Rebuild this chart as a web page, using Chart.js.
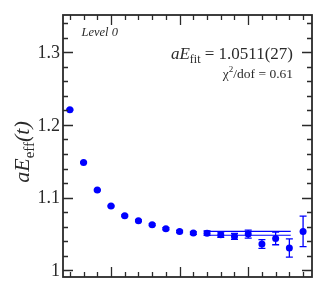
<!DOCTYPE html>
<html>
<head>
<meta charset="utf-8">
<script src="https://cdn.jsdelivr.net/npm/chart.js@4"></script>
<style>
  body { margin: 0; background: #fff; }
  canvas { display: block; }
</style>
</head>
<body>
<canvas id="effChart" width="326" height="294"></canvas>
<script>
// data
const tValues = [2, 3, 4, 5, 6, 7, 8, 9, 10, 11, 12, 13, 14, 15, 16, 17, 18, 19]
const effMass = [1.2207, 1.1484, 1.1104, 1.0885, 1.0751, 1.0683, 1.0628, 1.0573, 1.0536,
  1.0513, 1.0512, 1.0491, 1.0468, 1.0500, 1.0363, 1.0440, 1.0308, 1.0536]
const effErr = [0.0008, 0.0008, 0.0009, 0.0010, 0.0011, 0.0012, 0.0013, 0.0014, 0.0016,
  0.0018, 0.0030, 0.0035, 0.0040, 0.0055, 0.0060, 0.0087, 0.0126, 0.0210]
const fitRange = [11.8, 18.1]
const fitValue = 1.0511
const fitErr = 0.0027
const yTickValues = [1, 1.1, 1.2, 1.3]
const yTickLabels = ['1', '1.1', '1.2', '1.3']

const BLUE = '#0000ff'
const INK = '#2a2a2a'
const SERIF = '"Liberation Serif", "DejaVu Serif", serif'

// error bars drawn from the data through the scales
const errorBars = {
  id: 'errorBars',
  beforeDatasetsDraw(chart) {
    const { ctx, scales: { x, y } } = chart
    ctx.save()
    ctx.strokeStyle = BLUE
    ctx.lineWidth = 1.3
    tValues.forEach((t, i) => {
      const px = x.getPixelForValue(t)
      const lo = y.getPixelForValue(effMass[i] - effErr[i])
      const hi = y.getPixelForValue(effMass[i] + effErr[i])
      ctx.beginPath()
      ctx.moveTo(px, lo); ctx.lineTo(px, hi)
      ctx.moveTo(px - 3.5, lo); ctx.lineTo(px + 3.5, lo)
      ctx.moveTo(px - 3.5, hi); ctx.lineTo(px + 3.5, hi)
      ctx.stroke()
    })
    ctx.restore()
  },
}

// helper: draw a run of text pieces [text, font, dy]
function runWidth(ctx, parts) {
  let w = 0
  parts.forEach(p => { ctx.font = p[1]; w += ctx.measureText(p[0]).width })
  return w
}
function drawRun(ctx, parts, x, y) {
  parts.forEach(p => {
    ctx.font = p[1]
    ctx.fillText(p[0], x, y + (p[2] || 0))
    x += ctx.measureText(p[0]).width
  })
}

// frame, inward ticks on all sides, labels and texts
const frame = {
  id: 'frame',
  afterDraw(chart) {
    const { ctx, chartArea: a, scales: { x, y } } = chart
    ctx.save()
    ctx.strokeStyle = INK
    ctx.lineWidth = 1.3
    ctx.beginPath()
    // x ticks every 1, long every 5
    for (let t = Math.ceil(x.min); t <= x.max; t++) {
      const px = Math.round(x.getPixelForValue(t)) + 0.5
      const len = t % 5 === 0 ? 10 : 5
      ctx.moveTo(px, a.bottom); ctx.lineTo(px, a.bottom - len)
      ctx.moveTo(px, a.top); ctx.lineTo(px, a.top + len)
    }
    // y ticks every 0.02, long every 0.1
    for (let k = Math.ceil(y.min * 50); k <= y.max * 50; k++) {
      const py = Math.round(y.getPixelForValue(k / 50)) + 0.5
      const len = k % 5 === 0 ? 10 : 5
      ctx.moveTo(a.left, py); ctx.lineTo(a.left + len, py)
      ctx.moveTo(a.right, py); ctx.lineTo(a.right - len, py)
    }
    ctx.stroke()
    ctx.lineWidth = 1.8
    ctx.strokeRect(a.left, a.top, a.right - a.left, a.bottom - a.top)

    // y tick labels
    ctx.fillStyle = INK
    ctx.font = '18px ' + SERIF
    ctx.textAlign = 'right'
    ctx.textBaseline = 'middle'
    yTickValues.forEach((v, i) => {
      ctx.fillText(yTickLabels[i], a.left - 3, y.getPixelForValue(v) + 1)
    })

    ctx.textAlign = 'left'
    ctx.textBaseline = 'alphabetic'

    // y axis title
    const title = [
      ['aE', 'italic 22px ' + SERIF],
      ['eff', '15px ' + SERIF, 5],
      ['(t)', 'italic 22px ' + SERIF],
    ]
    ctx.save()
    ctx.translate(29, 152)
    ctx.rotate(-Math.PI / 2)
    drawRun(ctx, title, -runWidth(ctx, title) / 2, 0)
    ctx.restore()

    // panel label
    ctx.font = 'italic 12.5px ' + SERIF
    ctx.fillText('Level 0', 81.5, 35.5)

    // fit result
    const line1 = [
      ['aE', 'italic 17px ' + SERIF],
      ['fit', '12px ' + SERIF, 4],
      [' = ' + fitValue.toFixed(4) + '(' + Math.round(fitErr * 10000) + ')', '17px ' + SERIF],
    ]
    drawRun(ctx, line1, 293 - runWidth(ctx, line1), 58.5)
    const line2 = [
      ['\u03c7', '13.5px ' + SERIF],
      ['2', '9px ' + SERIF, -6],
      ['/dof = 0.61', '13.5px ' + SERIF],
    ]
    drawRun(ctx, line2, 293 - runWidth(ctx, line2), 78)
    ctx.restore()
  },
}

const ctx = document.getElementById('effChart').getContext('2d')
const effChart = new Chart(ctx, {
  type: 'scatter',
  data: {
    datasets: [
      {
        label: 'effective mass',
        data: tValues.map((t, i) => ({ x: t, y: effMass[i] })),
        backgroundColor: BLUE,
        borderColor: BLUE,
        pointRadius: 3.5,
        pointBorderWidth: 0,
      },
      {
        label: 'fit upper',
        type: 'line',
        data: fitRange.map(t => ({ x: t, y: fitValue + fitErr })),
        borderColor: BLUE,
        borderWidth: 1.2,
        pointRadius: 0,
      },
      {
        label: 'fit lower',
        type: 'line',
        data: fitRange.map(t => ({ x: t, y: fitValue - fitErr })),
        borderColor: BLUE,
        borderWidth: 1.2,
        pointRadius: 0,
      },
    ],
  },
  options: {
    responsive: false,
    animation: false,
    layout: { padding: { left: 63, right: 14, top: 15, bottom: 17 } },
    plugins: { legend: { display: false }, tooltip: { enabled: false } },
    scales: {
      x: { type: 'linear', min: 1.5, max: 19.65, display: false },
      y: { type: 'linear', min: 0.991, max: 1.351, display: false },
    },
  },
  plugins: [errorBars, frame],
})
</script>
</body>
</html>
